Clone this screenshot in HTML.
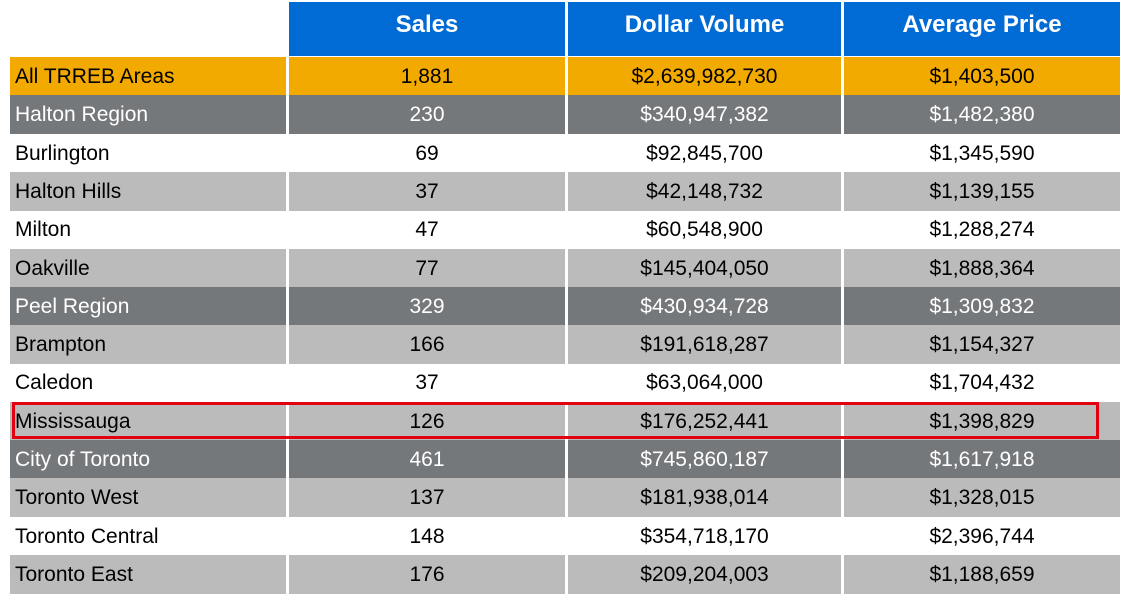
<!DOCTYPE html>
<html><head><style>
body{margin:0;width:1122px;height:590px;background:#fff;position:relative;overflow:hidden;font-family:"Liberation Sans",Arial,sans-serif}
.c{position:absolute;height:39px;line-height:40px;font-size:21px;color:#000;box-sizing:border-box}
.l{left:10px;width:276px;padding-left:5px}
.a{left:289px;width:276px;text-align:center}
.b{left:568px;width:273px;text-align:center}
.d{left:844px;width:276px;text-align:center}
.h{position:absolute;top:2px;height:54px;line-height:46px;background:#006ad5;color:#fff;font-weight:bold;font-size:24px;text-align:center}
.o{background:#f2a900}.g{background:#75787b;color:#fff}.s{background:#bbbbbb}
</style></head><body>
<div class="h" style="left:289px;width:276px">Sales</div>
<div class="h" style="left:568px;width:273px">Dollar Volume</div>
<div class="h" style="left:844px;width:276px">Average Price</div>
<div id="t"></div>
<div style="position:absolute;left:12px;top:402px;width:1087px;height:37px;border:3px solid #e3000f;box-sizing:border-box"></div>
<script>
var r=[["All TRREB Areas","1,881","$2,639,982,730","$1,403,500","o"],
["Halton Region","230","$340,947,382","$1,482,380","g"],
["Burlington","69","$92,845,700","$1,345,590",""],
["Halton Hills","37","$42,148,732","$1,139,155","s"],
["Milton","47","$60,548,900","$1,288,274",""],
["Oakville","77","$145,404,050","$1,888,364","s"],
["Peel Region","329","$430,934,728","$1,309,832","g"],
["Brampton","166","$191,618,287","$1,154,327","s"],
["Caledon","37","$63,064,000","$1,704,432",""],
["Mississauga","126","$176,252,441","$1,398,829","s"],
["City of Toronto","461","$745,860,187","$1,617,918","g"],
["Toronto West","137","$181,938,014","$1,328,015","s"],
["Toronto Central","148","$354,718,170","$2,396,744",""],
["Toronto East","176","$209,204,003","$1,188,659","s"]];
var h="";r.forEach(function(x,i){var t=Math.round(57+i*38.3);["l","a","b","d"].forEach(function(k,j){h+='<div class="c '+k+' '+x[4]+'" style="top:'+t+'px">'+x[j]+'</div>'})});
document.getElementById("t").innerHTML=h;
</script>
</body></html>
